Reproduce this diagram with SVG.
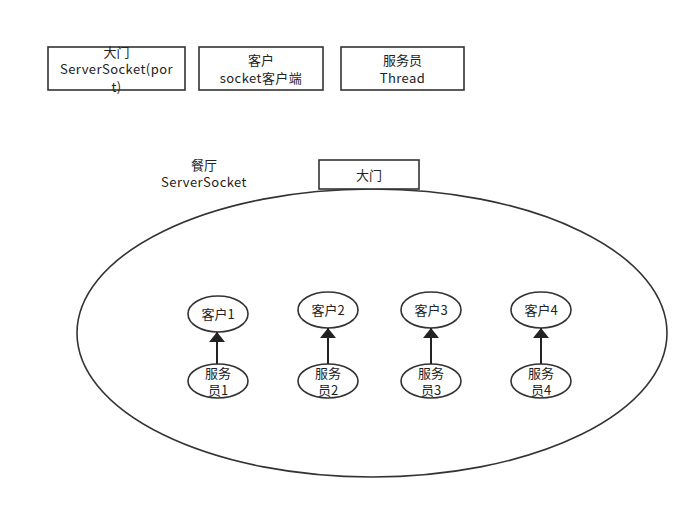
<svg xmlns="http://www.w3.org/2000/svg" width="699" height="509" viewBox="0 0 699 509">
<defs>
<style>
.box{fill:#fff;stroke:#333;stroke-width:1.6}
.el{fill:#fff;stroke:#333;stroke-width:1.6}
.t{font-family:"Noto Sans CJK SC","Noto Sans",sans-serif;font-size:13px;fill:#222;text-anchor:middle}
.l{letter-spacing:0.45px}
.c{stroke:#222;stroke-width:2;fill:none}
</style>
<marker id="ah" markerWidth="10" markerHeight="16" refX="10" refY="5" orient="auto" markerUnits="userSpaceOnUse" viewBox="0 0 10 10" preserveAspectRatio="none">
<path d="M0,0 L10,5 L0,10 Z" fill="#222"/>
</marker>
</defs>
<rect width="699" height="509" fill="#fff"/>
<g id="legend-door">
<rect class="box" x="48" y="47" width="137" height="43"/>
<text class="t" x="116.5" y="56.5">大门</text>
<text class="t l" x="116.5" y="74">ServerSocket(por</text>
<text class="t l" x="116.5" y="91.5">t)</text>
</g>
<g id="legend-client">
<rect class="box" x="199" y="47" width="124" height="43"/>
<text class="t" x="261" y="65">客户</text>
<text class="t l" x="261" y="82.5">socket客户端</text>
</g>
<g id="legend-waiter">
<rect class="box" x="341" y="47" width="123" height="43"/>
<text class="t" x="402.5" y="65">服务员</text>
<text class="t l" x="402.5" y="82.5">Thread</text>
</g>
<g id="restaurant-label">
<text class="t" x="204" y="169.5">餐厅</text>
<text class="t l" x="204" y="187">ServerSocket</text>
</g>
<g id="restaurant">
<ellipse class="el" cx="372" cy="333" rx="295" ry="144"/>
</g>
<g id="door">
<rect class="box" x="319" y="160" width="100" height="29"/>
<text class="t" x="369" y="179.5">大门</text>
</g>
<g id="client1"><ellipse class="el" cx="218" cy="314" rx="30" ry="18"/><text class="t" x="218" y="318.5">客户1</text></g>
<g id="client2"><ellipse class="el" cx="328" cy="310" rx="30" ry="18"/><text class="t" x="328" y="314.5">客户2</text></g>
<g id="client3"><ellipse class="el" cx="431" cy="310" rx="30" ry="18"/><text class="t" x="431" y="314.5">客户3</text></g>
<g id="client4"><ellipse class="el" cx="541" cy="310" rx="30" ry="18"/><text class="t" x="541" y="314.5">客户4</text></g>
<g id="waiter1"><ellipse class="el" cx="218" cy="381" rx="30" ry="17"/><text class="t" x="218" y="377.5">服务</text><text class="t" x="218" y="395">员1</text></g>
<g id="waiter2"><ellipse class="el" cx="328" cy="381" rx="30" ry="17"/><text class="t" x="328" y="377.5">服务</text><text class="t" x="328" y="395">员2</text></g>
<g id="waiter3"><ellipse class="el" cx="431" cy="381" rx="30" ry="17"/><text class="t" x="431" y="377.5">服务</text><text class="t" x="431" y="395">员3</text></g>
<g id="waiter4"><ellipse class="el" cx="541" cy="381" rx="30" ry="17"/><text class="t" x="541" y="377.5">服务</text><text class="t" x="541" y="395">员4</text></g>
<g id="connectors">
<line class="c" x1="217" y1="364" x2="217" y2="332" marker-end="url(#ah)"/>
<line class="c" x1="328" y1="364" x2="328" y2="328" marker-end="url(#ah)"/>
<line class="c" x1="431" y1="364" x2="431" y2="328" marker-end="url(#ah)"/>
<line class="c" x1="541" y1="364" x2="541" y2="328" marker-end="url(#ah)"/>
</g>
</svg>
